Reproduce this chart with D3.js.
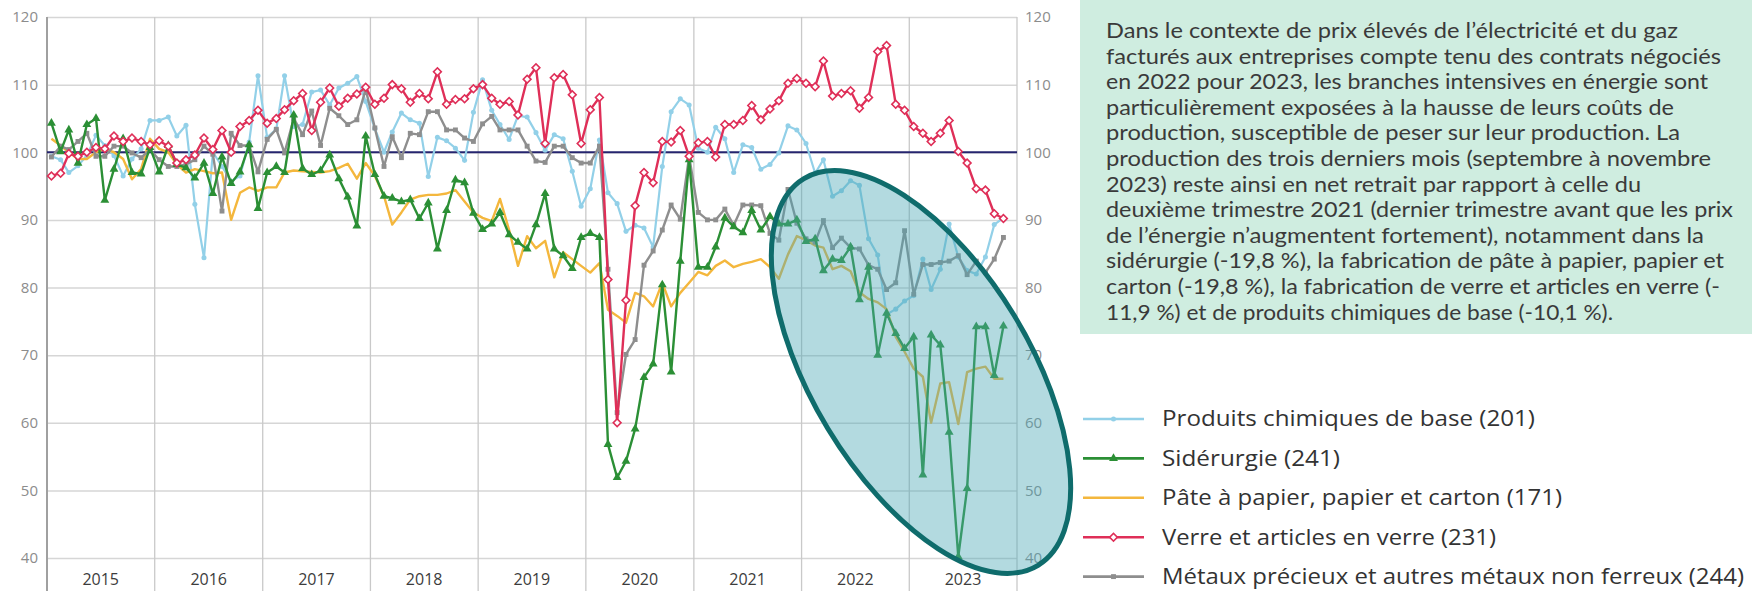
<!DOCTYPE html>
<html>
<head>
<meta charset="utf-8">
<script src="https://cdn.jsdelivr.net/npm/d3@7"></script>
<style>
  body { margin: 0; background: #fff; }
  svg { display: block; }
</style>
</head>
<body>
<svg id="chart" width="1752" height="591"></svg>
<script>
//########## data #######

const years = [2015, 2016, 2017, 2018, 2019, 2020, 2021, 2022, 2023];
const yTicks = [40, 50, 60, 70, 80, 90, 100, 110, 120];

// monthly indices, Jan 2015 -> Nov 2023
const chimie = [
  99.4, 98.9, 97.0, 98.0, 99.5, 102.5, 101.0, 99.5, 96.5, 99.0, 100.5, 104.7,
  104.7, 105.2, 102.4, 104.0, 92.3, 84.4, 100.0, 97.9, 95.7, 96.5, 101.5, 111.3,
  102.2, 103.4, 111.3, 103.8, 104.1, 108.9, 109.2, 107.0, 109.5, 110.2, 111.2, 107.5,
  103.5, 100.0, 103.0, 105.8, 104.8, 104.3, 96.4, 102.2, 101.7, 100.6, 98.8, 105.9,
  110.7, 106.2, 104.1, 101.9, 105.4, 105.2, 102.9, 100.3, 102.6, 102.0, 97.2, 92.0,
  94.6, 101.8, 94.0, 92.4, 88.3, 89.2, 88.8, 86.0, 97.9, 106.0, 107.9, 107.0,
  100.6, 100.0, 103.7, 102.0, 97.0, 101.1, 100.7, 97.5, 98.2, 99.9, 103.9, 103.3,
  101.3, 96.9, 98.9, 93.5, 94.3, 95.8, 95.1, 87.2, 84.8, 76.0, 76.8, 78.0,
  78.8, 84.2, 79.7, 82.7, 89.4, 84.5, 82.5, 82.0, 84.5, 89.3, 90.3
];
const siderurgie = [
  104.3, 100.1, 103.3, 98.4, 104.1, 105.0, 92.9, 97.5, 102.0, 97.0, 96.8, 100.7,
  97.1, 101.0, 98.2, 97.7, 96.2, 98.4, 93.9, 99.3, 95.4, 97.1, 101.1, 91.7,
  97.0, 97.9, 97.0, 105.5, 97.6, 96.7, 97.3, 99.6, 96.1, 93.4, 89.1, 102.4,
  96.7, 93.5, 93.2, 92.7, 93.0, 90.2, 92.5, 85.7, 91.4, 95.9, 95.5, 91.0,
  88.6, 89.4, 91.1, 87.8, 86.7, 85.7, 89.3, 93.9, 85.7, 84.7, 82.8, 87.4,
  88.0, 87.4, 56.8, 51.9, 54.3, 59.1, 66.7, 68.7, 80.4, 67.5, 83.9, 98.9,
  83.0, 83.0, 86.0, 90.3, 89.0, 88.1, 91.4, 88.5, 90.5, 89.4, 89.4, 90.0,
  86.8, 87.2, 82.5, 84.2, 84.0, 86.0, 78.2, 83.0, 70.0, 76.2, 73.2, 71.0,
  72.7, 52.3, 73.0, 71.5, 58.6, 40.2, 50.3, 74.2, 74.2, 67.0, 74.3
];
const papier = [
  102.0, 101.0, 100.0, 99.0, 99.0, 100.0, 100.5, 100.0, 99.0, 96.0, 97.5, 102.0,
  100.5, 100.0, 98.2, 97.0, 97.5, 97.2, 96.9, 97.0, 90.0, 94.0, 94.8, 94.3,
  94.8, 94.8, 97.0, 97.3, 97.2, 97.1, 97.0, 97.2, 97.7, 98.3, 96.1, 98.4,
  96.5, 93.5, 89.3, 91.1, 93.0, 93.5, 93.7, 93.7, 93.9, 94.4, 92.7, 91.1,
  90.3, 89.8, 93.1, 88.5, 83.2, 87.6, 85.8, 86.9, 81.5, 85.2, 84.2, 83.2,
  82.2, 83.6, 76.7, 75.8, 74.8, 79.2, 78.7, 77.2, 80.7, 77.2, 79.2, 80.7,
  82.3, 81.8, 83.2, 84.0, 83.0, 83.5, 83.8, 84.2, 83.0, 81.3, 84.9, 87.6,
  87.0, 86.2, 85.9, 82.7, 83.2, 82.4, 79.3, 78.3, 77.8, 76.8, 72.7, 70.5,
  68.0, 66.8, 60.0, 65.8, 66.0, 59.8, 67.5, 68.0, 68.3, 66.5, 66.5
];
const verre = [
  96.5, 96.9, 99.8, 99.4, 100.0, 100.7, 100.5, 102.4, 101.6, 102.1, 101.6, 101.1,
  101.7, 100.9, 98.4, 98.9, 99.6, 102.1, 100.4, 103.2, 100.0, 103.8, 104.7, 106.2,
  104.3, 105.0, 106.3, 107.6, 108.7, 103.2, 107.4, 109.5, 106.8, 108.0, 108.6, 109.6,
  107.1, 108.0, 110.0, 109.4, 107.4, 108.7, 107.9, 111.9, 107.1, 107.8, 107.9, 109.4,
  110.0, 108.0, 107.1, 107.5, 105.5, 110.8, 112.5, 101.3, 111.0, 111.5, 108.5, 101.3,
  106.3, 108.1, 81.2, 60.0, 78.1, 92.1, 97.0, 95.5, 101.6, 101.5, 103.2, 99.4,
  101.4, 101.6, 99.3, 104.1, 104.1, 104.7, 106.9, 104.8, 106.4, 107.6, 110.2, 110.9,
  110.2, 109.7, 113.5, 108.3, 108.7, 109.1, 106.5, 108.1, 114.9, 115.8, 107.1, 106.2,
  103.8, 102.8, 101.6, 102.8, 104.7, 100.1, 98.4, 94.6, 94.4, 90.9, 90.2
];
const metaux = [
  99.3, 100.9, 100.4, 101.6, 102.8, 99.4, 99.4, 100.9, 100.9, 99.9, 99.2, 100.4,
  98.9, 97.9, 97.9, 98.2, 98.9, 100.9, 99.7, 91.3, 102.8, 101.0, 101.0, 97.1,
  101.9, 103.4, 99.9, 105.0, 102.6, 106.1, 101.0, 106.5, 105.4, 104.1, 104.8, 109.3,
  103.6, 97.9, 102.3, 99.2, 102.8, 102.6, 106.0, 106.0, 103.3, 103.3, 102.1, 101.6,
  104.2, 105.3, 103.3, 103.3, 103.3, 100.9, 98.7, 98.5, 100.9, 100.9, 99.2, 98.4,
  98.4, 100.9, 82.7, 61.5, 70.1, 72.3, 83.3, 85.4, 88.5, 92.2, 90.1, 99.4,
  91.1, 90.0, 90.0, 91.6, 89.2, 92.2, 92.2, 92.1, 88.0, 87.0, 94.5, 89.5,
  87.2, 86.7, 89.9, 85.9, 87.3, 85.9, 85.7, 83.3, 82.7, 79.7, 80.7, 88.4,
  79.0, 83.4, 83.4, 83.7, 83.9, 84.7, 81.9, 83.9, 82.2, 84.2, 87.4
];

const noteLines = [
  "Dans le contexte de prix élevés de l’électricité et du gaz",
  "facturés aux entreprises compte tenu des contrats négociés",
  "en 2022 pour 2023, les branches intensives en énergie sont",
  "particulièrement exposées à la hausse de leurs coûts de",
  "production, susceptible de peser sur leur production. La",
  "production des trois derniers mois (septembre à novembre",
  "2023) reste ainsi en net retrait par rapport à celle du",
  "deuxième trimestre 2021 (dernier trimestre avant que les prix",
  "de l’énergie n’augmentent fortement), notamment dans la",
  "sidérurgie (-19,8 %), la fabrication de pâte à papier, papier et",
  "carton (-19,8 %), la fabrication de verre et articles en verre (-",
  "11,9 %) et de produits chimiques de base (-10,1 %)."
];
// measured line widths in the reference (px)
const noteWidths = [572, 615, 602, 568, 574, 605, 535, 627, 598, 618, 614, 507];

// drawing order: first drawn = bottom
const series = [
  { name: "Produits chimiques de base (201)", values: chimie, color: "#92d0e8", marker: "circle", order: 0, width: 373 },
  { name: "Sidérurgie (241)", values: siderurgie, color: "#2b8f35", marker: "triangle", order: 3, width: 178 },
  { name: "Pâte à papier, papier et carton (171)", values: papier, color: "#f4b73d", marker: null, order: 1, width: 400 },
  { name: "Verre et articles en verre (231)", values: verre, color: "#df2f58", marker: "diamond", order: 4, width: 334 },
  { name: "Métaux précieux et autres métaux non ferreux (244)", values: metaux, color: "#8e8e8e", marker: "square", order: 2, width: 582 }
];

//########## chart #######

const svg = d3.select("#chart");
const FONT = "'Open Sans', sans-serif";

const x = d3.scaleTime()
  .domain([new Date(2015, 0, 1), new Date(2024, 0, 1)])
  .range([47, 1017]);
const y = d3.scaleLinear().domain([40, 120]).range([558, 17]);

const monthDate = (i) => new Date(2015, i, 16);

// horizontal gridlines
svg.append("g")
  .attr("transform", "translate(47,0)")
  .call(d3.axisLeft(y).tickValues(yTicks).tickSize(-970).tickFormat(""))
  .call((g) => g.select(".domain").remove())
  .call((g) => g.selectAll("line").attr("stroke", "#d6d6d6").attr("stroke-width", 1.5));

// vertical year lines (continue through label strip)
svg.append("g")
  .selectAll("line")
  .data(d3.timeYear.range(new Date(2015, 0, 1), new Date(2025, 0, 1)))
  .join("line")
  .attr("x1", (d) => x(d))
  .attr("x2", (d) => x(d))
  .attr("y1", y(120))
  .attr("y2", 591)
  .attr("stroke", (d, i) => (i === 0 ? "#a0a0a0" : "#c9c9c9"))
  .attr("stroke-width", (d, i) => (i === 0 ? 2 : 1.3));

// 100 reference line
svg.append("line")
  .attr("x1", 47).attr("x2", 1017)
  .attr("y1", y(100)).attr("y2", y(100))
  .attr("stroke", "#25246e").attr("stroke-width", 2);

// y labels left and right
svg.append("g")
  .attr("transform", "translate(47,0)")
  .call(d3.axisLeft(y).tickValues(yTicks).tickSize(0).tickPadding(9))
  .call((g) => g.select(".domain").remove())
  .call((g) => g.selectAll("text").attr("fill", "#8c8c8c").style("font", `15px ${FONT}`));

svg.append("g")
  .attr("transform", "translate(1017,0)")
  .call(d3.axisRight(y).tickValues(yTicks).tickSize(0).tickPadding(8))
  .call((g) => g.select(".domain").remove())
  .call((g) => g.selectAll("text").attr("fill", "#8c8c8c").style("font", `15px ${FONT}`));

// year labels centred in each band
svg.append("g")
  .selectAll("text")
  .data(years)
  .join("text")
  .attr("x", (d) => x(new Date(d, 6, 2)))
  .attr("y", 585)
  .attr("text-anchor", "middle")
  .attr("fill", "#3c3c3c")
  .style("font", `16px ${FONT}`)
  .text((d) => d);

// lines + markers
const symbols = {
  circle: d3.symbol(d3.symbolCircle, 20),
  triangle: d3.symbol(d3.symbolTriangle, 34),
  diamond: d3.symbol(d3.symbolSquare, 30),
  square: d3.symbol(d3.symbolSquare, 24)
};

const line = d3.line()
  .x((d, i) => x(monthDate(i)))
  .y((d) => y(d));

const plot = svg.append("g");
series
  .slice()
  .sort((a, b) => a.order - b.order)
  .forEach((s) => {
    const g = plot.append("g");
    g.append("path")
      .attr("d", line(s.values))
      .attr("fill", "none")
      .attr("stroke", s.color)
      .attr("stroke-width", s.marker === "circle" ? 2.2 : 2.4)
      .attr("stroke-linejoin", "round");
    if (!s.marker) return;
    g.selectAll("path.pt")
      .data(s.values)
      .join("path")
      .attr("class", "pt")
      .attr("d", symbols[s.marker])
      .attr("transform", (d, i) =>
        `translate(${x(monthDate(i))},${y(d)})` + (s.marker === "diamond" ? " rotate(45)" : ""))
      .attr("fill", s.marker === "diamond" ? "#fff" : s.color)
      .attr("stroke", s.marker === "diamond" ? s.color : "none")
      .attr("stroke-width", 1.6);
  });

// highlight ellipse
svg.append("ellipse")
  .attr("cx", 921).attr("cy", 372)
  .attr("rx", 226).attr("ry", 109)
  .attr("transform", "rotate(58.8,921,372)")
  .attr("fill", "#4aa8b5")
  .attr("fill-opacity", 0.42)
  .attr("stroke", "#0f6c6c")
  .attr("stroke-width", 5);

// note box
svg.append("rect")
  .attr("x", 1080).attr("y", 0)
  .attr("width", 672).attr("height", 334)
  .attr("fill", "#cfede0");

svg.append("g")
  .selectAll("text")
  .data(noteLines)
  .join("text")
  .attr("x", 1106)
  .attr("y", (d, i) => 38 + i * 25.6)
  .attr("fill", "#3a3a3a")
  .attr("textLength", (d, i) => noteWidths[i])
  .attr("lengthAdjust", "spacingAndGlyphs")
  .style("font", "21px Lato, sans-serif")
  .text((d) => d);

// legend
const legend = svg.append("g");
series.forEach((s, i) => {
  const cy = 419 + i * 39.4;
  const row = legend.append("g");
  row.append("line")
    .attr("x1", 1083).attr("x2", 1144)
    .attr("y1", cy).attr("y2", cy)
    .attr("stroke", s.color).attr("stroke-width", 2.6);
  if (s.marker) {
    row.append("path")
      .attr("d", symbols[s.marker])
      .attr("transform", `translate(1113.5,${cy})` + (s.marker === "diamond" ? " rotate(45)" : ""))
      .attr("fill", s.marker === "diamond" ? "#fff" : s.color)
      .attr("stroke", s.marker === "diamond" ? s.color : "none")
      .attr("stroke-width", 1.6);
  }
  row.append("text")
    .attr("x", 1162)
    .attr("y", cy)
    .attr("dy", "0.35em")
    .attr("fill", "#333")
    .attr("textLength", s.width)
    .attr("lengthAdjust", "spacingAndGlyphs")
    .style("font", `21px ${FONT}`)
    .text(s.name);
});
</script>
</body>
</html>
